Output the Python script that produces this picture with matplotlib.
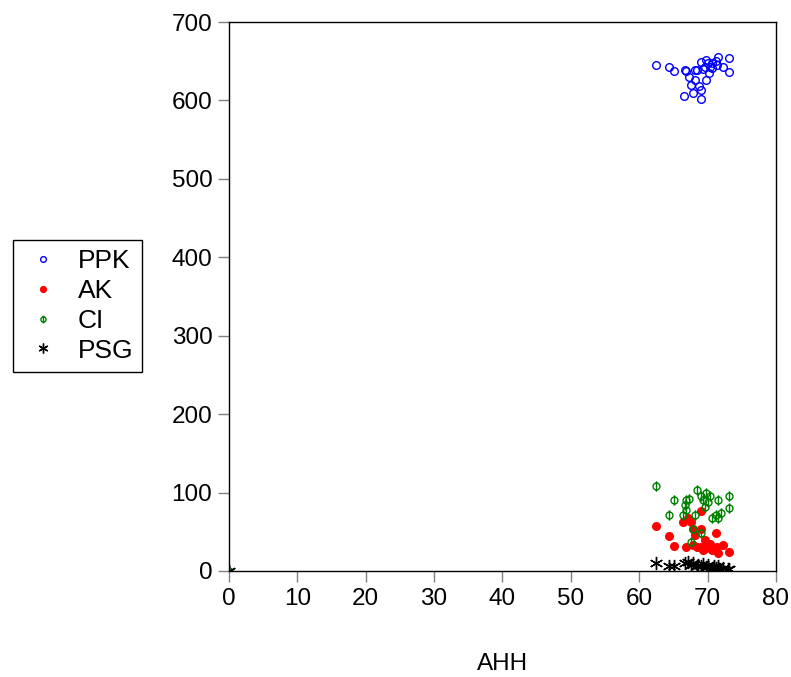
import matplotlib.pyplot as plt
from matplotlib.path import Path

plt.rcParams['font.family'] = ['Liberation Sans', 'DejaVu Sans']

# PPK (open blue circles)
ppk_x = [62.5, 64.4, 65.1, 66.7, 66.9, 67.3, 68.1, 68.5, 69.0, 69.8, 70.0, 71.5, 73.1, 73.2, 72.3, 71.4,
         70.7, 70.3, 69.6, 69.3, 70.2, 69.8, 68.1, 67.6, 68.8, 67.9, 69.0, 66.5, 69.0, 71.3, 70.6]
ppk_y = [645, 643, 637, 639, 638, 630, 639, 639, 649, 651, 648, 655, 654, 636, 643, 645,
         641, 642, 643, 640, 635, 626, 626, 620, 619, 610, 613, 606, 602, 650, 648]

# AK (filled red dots)
ak_x = [62.5, 64.4, 65.1, 66.8, 66.4, 67.1, 69.0, 67.8, 68.1, 67.6, 69.1, 71.3, 69.6, 68.4, 69.1, 69.8,
        70.6, 71.5, 72.3, 73.1, 71.4, 70.3, 67.9, 69.4]
ak_y = [57, 45, 32, 31, 63, 67, 76, 54, 46, 63, 54, 49, 40, 31, 31, 29,
        27, 23, 33, 24, 31, 35, 33, 27]

# CI (green phi markers)
ci_x = [0.0, 62.5, 65.1, 64.4, 66.9, 66.7, 67.3, 68.4, 69.1, 69.8, 70.1, 71.5, 73.1, 73.2, 72.0, 71.5,
        70.6, 71.2, 69.6, 69.4, 68.1, 66.9, 66.4, 67.9, 69.0, 67.6, 70.3]
ci_y = [0, 108, 91, 72, 91, 84, 92, 103, 95, 100, 88, 91, 96, 80, 74, 67,
        68, 72, 82, 91, 71, 78, 71, 54, 48, 37, 95]

# PSG (black asterisks)
psg_x = [0.0, 62.5, 64.4, 65.1, 66.7, 67.1, 67.9, 68.6, 69.4, 70.1, 70.9, 71.5, 72.3, 73.0, 73.2,
         68.4, 69.8, 70.6, 69.1, 67.6, 71.3, 71.8]
psg_y = [0, 10, 6, 6, 10, 11, 10, 8, 9, 7, 6, 6, 4, 3, 3,
         6, 5, 4, 6, 7, 4, 3]

# phi-like marker: circle with a vertical stroke
circ = Path.unit_circle()
phi = Path.make_compound_path(
    Path(circ.vertices * [1.0, 1.0], circ.codes),
    Path([[0, -1.5], [0, 1.5]], [Path.MOVETO, Path.LINETO]))

fig = plt.figure(figsize=(7.91, 6.77), dpi=100)
ax = fig.add_axes([0.2895, 0.1566, 0.6915, 0.8109])

ax.plot(ppk_x, ppk_y, 'o', ls='none', ms=5.5, mfc='none', mec='#0000ff', mew=1.0, label='PPK')
ax.plot(ak_x, ak_y, 'o', ls='none', ms=5.5, mfc='#ff0000', mec='#ff0000', label='AK')
ax.plot(ci_x, ci_y, marker=phi, ls='none', ms=7.5, mfc='none', mec='#008000', mew=1.0, label='CI')
ax.plot(psg_x, psg_y, marker=(6, 2, 0), ls='none', ms=9.5, mec='black', mew=1.0, label='PSG')

ax.set_xlim(0, 80)
ax.set_ylim(0, 700)
ax.set_xticks(range(0, 81, 10))
ax.set_yticks(range(0, 701, 100))
ax.tick_params(direction='out', length=8, width=1, color='#808080', labelsize=17.5, pad=4)
for s in ax.spines.values():
    s.set_linewidth(1.0)
    s.set_color('black')
ax.set_xlabel('AHH', fontsize=17.5, labelpad=31)

fig.legend(loc='upper left', bbox_to_anchor=(0.0164, 0.6455), borderaxespad=0, fontsize=19,
           fancybox=False, edgecolor='black', framealpha=1, labelspacing=0.22,
           handletextpad=0.5, handlelength=1.6, borderpad=0.35, markerscale=0.75)

fig.savefig('out.png', dpi=100)
